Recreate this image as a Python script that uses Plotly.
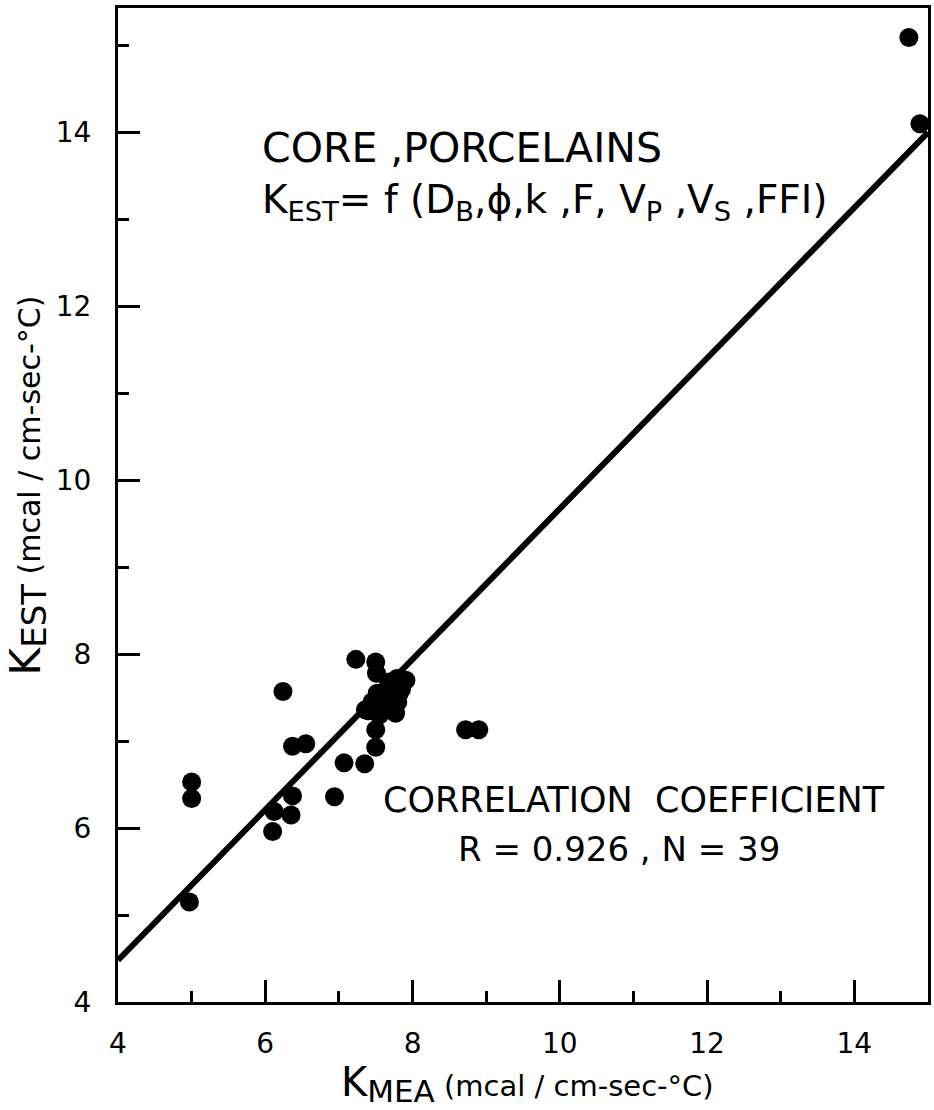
import plotly.graph_objects as go

# measured thermal conductivity (x) vs estimated (y), mcal/cm-sec-°C
k_mea = [7.23, 7.50, 7.51, 7.79, 7.91, 6.24, 7.52, 7.82, 7.64, 7.36,
         7.59, 7.77, 7.50, 8.72, 8.90, 6.37, 6.55, 7.50, 7.07, 7.35,
         5.00, 5.00, 6.94, 6.37, 6.12, 6.35, 6.10, 4.97, 14.74, 14.89,
         7.45, 7.65, 7.70, 7.55, 7.85, 7.40, 7.60, 7.80, 7.68]
k_est = [7.94, 7.91, 7.78, 7.72, 7.70, 7.57, 7.55, 7.55, 7.43, 7.36,
         7.36, 7.32, 7.13, 7.13, 7.13, 6.94, 6.97, 6.93, 6.75, 6.74,
         6.53, 6.34, 6.36, 6.37, 6.19, 6.15, 5.96, 5.15, 15.09, 14.10,
         7.45, 7.60, 7.40, 7.30, 7.60, 7.35, 7.50, 7.45, 7.68]

fit_x = [4.0, 15.0]
fit_y = [4.48, 14.0]

x_ticks = [4, 6, 8, 10, 12, 14]
y_ticks = [4, 6, 8, 10, 12, 14]

FONT = "DejaVu Sans"

fig = go.Figure()
fig.add_trace(go.Scatter(x=fit_x, y=fit_y, mode="lines",
                         line=dict(color="black", width=6), showlegend=False))
fig.add_trace(go.Scatter(x=k_mea, y=k_est, mode="markers",
                         marker=dict(color="black", size=19, line=dict(width=0)),
                         showlegend=False))

axis_common = dict(
    showline=True, linecolor="black", linewidth=3, mirror=True,
    ticks="inside", ticklen=22, tickwidth=2.5, tickcolor="black",
    showgrid=False, zeroline=False,
    tickfont=dict(family=FONT, size=28, color="black"),
    minor=dict(ticks="inside", ticklen=11, tickwidth=2.5, tickcolor="black", dtick=1, showgrid=False),
)

fig.update_xaxes(range=[4, 15], tickvals=x_ticks, ticklabelstandoff=14, **axis_common)
fig.update_yaxes(range=[4, 15.43], tickvals=y_ticks, ticklabelstandoff=18, **axis_common)

annots = [
    dict(x=5.93, y=13.82, xref="x", yref="y", xanchor="left", yanchor="middle",
         text="CORE ,PORCELAINS", font=dict(family=FONT, size=41, color="black")),
    dict(x=5.93, y=13.2, xref="x", yref="y", xanchor="left", yanchor="middle",
         text="K<sub>EST</sub>= f (D<sub>B</sub>,\u03d5,k ,F, V<sub>P</sub> ,V<sub>S</sub> ,FFI)",
         font=dict(family=FONT, size=39, color="black")),
    dict(x=11.01, y=6.32, xref="x", yref="y", xanchor="center", yanchor="middle",
         text="CORRELATION  COEFFICIENT", font=dict(family=FONT, size=35, color="black")),
    dict(x=10.8, y=5.76, xref="x", yref="y", xanchor="center", yanchor="middle",
         text="R = 0.926 , N = 39", font=dict(family=FONT, size=34, color="black")),
    dict(x=0.505, y=-0.082, xref="paper", yref="paper", xanchor="center", yanchor="middle",
         text="<span style='font-size:40px'>K</span><sub><span style='font-size:31px'>MEA</span></sub>"
              " <span style='font-size:29px'>(mcal / cm-sec-°C)</span>",
         font=dict(family=FONT, size=29, color="black"), showarrow=False),
    dict(x=-0.112, y=0.52, xref="paper", yref="paper", xanchor="center", yanchor="middle",
         textangle=-90,
         text="<span style='font-size:42px'>K</span><sub><span style='font-size:34px'>EST</span></sub>"
              " <span style='font-size:30px'>(mcal / cm-sec-°C)</span>",
         font=dict(family=FONT, size=30, color="black"), showarrow=False),
]
for a in annots:
    a.setdefault("showarrow", False)
fig.update_layout(annotations=annots)

fig.update_layout(
    width=934, height=1110,
    margin=dict(l=118, r=3, t=8, b=108),
    paper_bgcolor="white", plot_bgcolor="white",
    font=dict(family=FONT, color="black"),
)

fig.write_html("out.html")
